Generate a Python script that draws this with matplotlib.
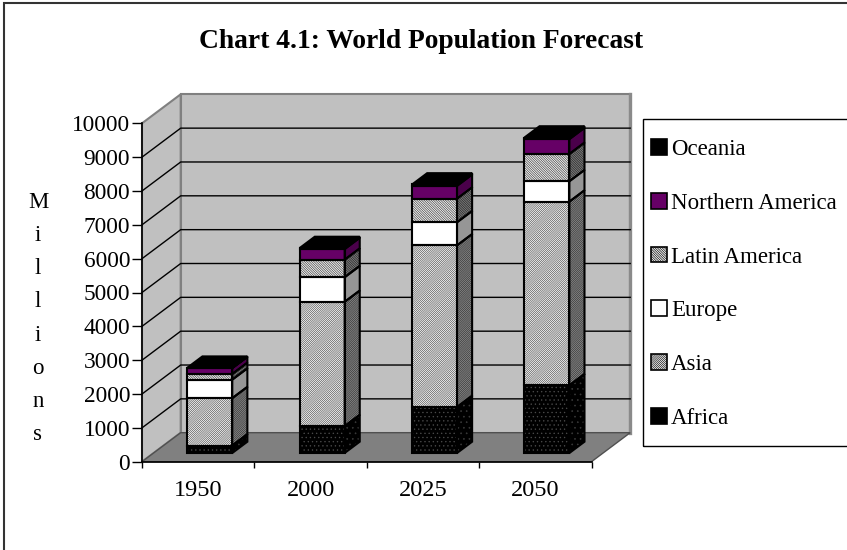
import numpy as np
import matplotlib
matplotlib.use("Agg")
import matplotlib.pyplot as plt
from matplotlib.patches import Polygon, Patch, Rectangle

plt.rcParams['font.family'] = ['Liberation Serif', 'DejaVu Serif']
plt.rcParams['hatch.linewidth'] = 0.45

years = ['1950', '2000', '2025', '2050']
regions = ['Africa', 'Asia', 'Europe', 'Latin America', 'Northern America', 'Oceania']

# millions of people
africa = [221, 794, 1358, 2000]
asia = [1399, 3672, 4777, 5428]
europe = [548, 727, 683, 603]
latin_america = [167, 519, 697, 806]
northern_america = [172, 314, 380, 438]
oceania = [13, 31, 40, 47]
series = [africa, asia, europe, latin_america, northern_america, oceania]

yticks = np.arange(0, 10001, 1000)

FWD = '/' * 16
BACK = '\\' * 14
# face / hatch / hatch colour for the front, then the same for the shaded side
styles = {
    'Africa':           dict(face='black',   hatch='....', hc='#4a4a4a', side='black',   shatch='...', shc='#3a3a3a'),
    'Asia':             dict(face='white',   hatch=FWD,    hc='#4a4a4a', side='#8c8c8c', shatch=FWD,   shc='#303030'),
    'Europe':           dict(face='white',   hatch=None,   hc='white',   side='#969696', shatch=None,  shc='#969696'),
    'Latin America':    dict(face='#f0f0f0', hatch=BACK,   hc='#3a3a3a', side='#7a7a7a', shatch=BACK,  shc='#202020'),
    'Northern America': dict(face='#660066', hatch=None,   hc='#660066', side='#4a004a', shatch=None,  shc='#4a004a'),
    'Oceania':          dict(face='black',   hatch=None,   hc='black',   side='black',   shatch=None,  shc='black'),
}

W, H = 847, 550
fig = plt.figure(figsize=(W / 100, H / 100), dpi=100)
fig.patch.set_facecolor('white')

# front plane of the 3-D box
left_px, right_px, top_px, bot_px = 142, 591.5, 123.3, 461.7
ax = fig.add_axes([left_px / W, 1 - bot_px / H, (right_px - left_px) / W, (bot_px - top_px) / H])
ax.set_xlim(-0.5, 3.5)
ax.set_ylim(0, 10000)
ax.patch.set_visible(False)

# depth offsets, converted from pixels to data units
px_per_cat = (right_px - left_px) / 4
px_per_unit = (bot_px - top_px) / 10000
DX = 38.7 / px_per_cat
DY = 29.0 / px_per_unit
D0, BD = 0.30, 0.39      # bar front depth and bar thickness (fractions of box depth)
bw = 0.40

x0, x1 = -0.5, 3.5
# walls and floor
ax.add_patch(Polygon([(x0, 0), (x0 + DX, DY), (x0 + DX, 10000 + DY), (x0, 10000)],
                     facecolor='#c0c0c0', edgecolor='#808080', lw=1.5, zorder=0.5, clip_on=False))
ax.add_patch(Rectangle((x0 + DX, DY), x1 - x0, 10000, facecolor='#c0c0c0',
                       edgecolor='#808080', lw=1.5, zorder=0.5, clip_on=False))
ax.plot([x1 + DX, x1 + DX], [DY, 10000 + DY], color='#8a8a8a', lw=2.4, zorder=0.6, clip_on=False)
for v in yticks[1:-1]:
    ax.plot([x0, x0 + DX, x1 + DX], [v, v + DY, v + DY], color='black', lw=1.0, zorder=0.7, clip_on=False)
ax.add_patch(Polygon([(x0, 0), (x1, 0), (x1 + DX, DY), (x0 + DX, DY)],
                     facecolor='#808080', edgecolor='#505050', lw=1.0, zorder=1, clip_on=False))

# stacked columns: front faces, side faces, then the lid
pos = np.arange(len(years)) + D0 * DX
base = np.zeros(len(years))
bdx, bdy = BD * DX, BD * DY
for name, vals in zip(regions, series):
    vals = np.array(vals, dtype=float)
    st = styles[name]
    bottom = base + D0 * DY
    ax.bar(pos, vals, bottom=bottom, width=bw, color=st['face'], hatch=st['hatch'],
           edgecolor=st['hc'], linewidth=0, zorder=5)
    ax.bar(pos, vals, bottom=bottom, width=bw, fill=False, edgecolor='black', linewidth=1.5, zorder=7)
    for i in range(len(years)):
        xr = pos[i] + bw / 2
        ya, yb = bottom[i], bottom[i] + vals[i]
        side = [(xr, ya), (xr + bdx, ya + bdy), (xr + bdx, yb + bdy), (xr, yb)]
        ax.add_patch(Polygon(side, facecolor=st['side'], hatch=st['shatch'], edgecolor=st['shc'],
                             lw=0, zorder=4))
        ax.add_patch(Polygon(side, fill=False, edgecolor='black', lw=1.5, zorder=6))
    base += vals

for i in range(len(years)):
    top = base[i] + D0 * DY
    xl, xr = pos[i] - bw / 2, pos[i] + bw / 2
    ax.add_patch(Polygon([(xl, top), (xr, top), (xr + bdx, top + bdy), (xl + bdx, top + bdy)],
                         facecolor='black', edgecolor='black', lw=1.5, zorder=8))

# axes
for s in ['top', 'right']:
    ax.spines[s].set_visible(False)
for s in ['left', 'bottom']:
    ax.spines[s].set_linewidth(1.2)
    ax.spines[s].set_zorder(3)
ax.set_yticks(yticks)
ax.set_yticklabels([str(v) for v in yticks])
ax.tick_params(axis='y', length=7, width=1.0, pad=1.5, labelsize=16.8, direction='out')
ax.set_xticks(np.arange(len(years)))
ax.set_xticklabels(years)
ax.set_xticks(np.arange(len(years) + 1) - 0.5, minor=True)
ax.tick_params(axis='x', which='major', length=0, pad=13, labelsize=17.5)
ax.tick_params(axis='x', which='minor', length=4, width=1.0, direction='out')

fig.text(38 / W, 1 - 318.5 / H, '\n'.join('Millions'), ha='center', va='center',
         fontsize=16.5, linespacing=1.76)
fig.text(421 / W, 1 - 42 / H, 'Chart 4.1: World Population Forecast', ha='center', va='center',
         fontsize=19.8, fontweight='bold')

# legend, top entry first
handles = []
for name in regions[::-1]:
    st = styles[name]
    handles.append(Patch(facecolor=st['face'], hatch=st['hatch'], edgecolor='black', linewidth=1.2, label=name))
leg = fig.legend(handles=handles, loc='upper left', bbox_to_anchor=(651 / W, 1 - 139 / H),
                 frameon=False, fontsize=16.5, handlelength=0.68, handleheight=0.68,
                 handletextpad=0.2, labelspacing=1.43, borderpad=0, borderaxespad=0)
fig.patches.append(Rectangle((643 / W, 1 - 446 / H), 0.3, (446 - 119) / H, transform=fig.transFigure,
                             fill=False, edgecolor='black', lw=1.0))
# chart border
fig.patches.append(Rectangle((4 / W, -0.1), 1.2, 1.1 - 3 / H, transform=fig.transFigure,
                             fill=False, edgecolor='#333333', lw=1.5))

fig.savefig('out.png', dpi=100, facecolor='white')
